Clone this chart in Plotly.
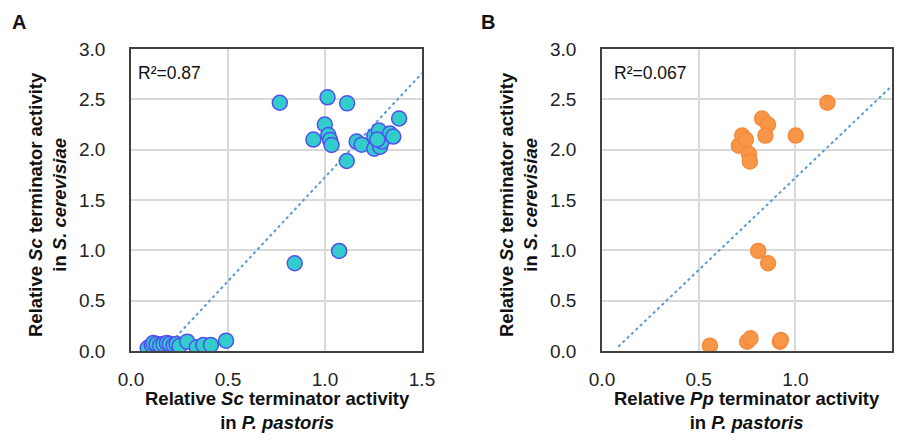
import plotly.graph_objects as go

# Panel A data: Sc terminators, activity in P. pastoris (x) vs S. cerevisiae (y)
a_x = [0.767, 1.013, 1.114, 1.382, 0.999, 0.940, 1.017, 1.026, 1.034, 1.112,
       1.163, 1.189, 1.254, 1.278, 1.254, 1.284, 1.292, 1.335, 1.352, 1.270,
       0.844, 1.073,
       0.086, 0.107, 0.115, 0.132, 0.150, 0.167, 0.185, 0.200, 0.220, 0.235,
       0.250, 0.290, 0.339, 0.373, 0.412, 0.490]
a_y = [2.466, 2.520, 2.460, 2.310, 2.250, 2.100, 2.145, 2.095, 2.046, 1.887,
       2.080, 2.050, 2.135, 2.190, 2.010, 2.030, 2.080, 2.160, 2.130, 2.100,
       0.872, 0.994,
       0.030, 0.060, 0.080, 0.070, 0.060, 0.070, 0.080, 0.070, 0.060, 0.070,
       0.050, 0.093, 0.037, 0.060, 0.060, 0.103]
a_trend_x = [0.209, 1.5]
a_trend_y = [0.093, 2.76]
a_r2 = "R²=0.87"

# Panel B data: Pp terminators
b_x = [0.558, 0.751, 0.768, 0.920, 0.925, 0.808, 0.859, 0.708, 0.725, 0.744,
       0.760, 0.765, 0.828, 0.859, 0.845, 1.002, 1.166]
b_y = [0.053, 0.093, 0.126, 0.093, 0.110, 0.994, 0.872, 2.040, 2.140, 2.100,
       1.956, 1.883, 2.310, 2.250, 2.140, 2.140, 2.466]
b_trend_x = [0.084, 1.5]
b_trend_y = [0.043, 2.635]
b_r2 = "R²=0.067"

x_ticks = [0.0, 0.5, 1.0, 1.5]
y_ticks = [0.0, 0.5, 1.0, 1.5, 2.0, 2.5, 3.0]
x_tick_text = ["0.0", "0.5", "1.0", "1.5"]
y_tick_text = ["0.0", "0.5", "1.0", "1.5", "2.0", "2.5", "3.0"]

# page body has an 8px margin: figure is drawn offset by 8px
OFF = 8
W, H = 904 - OFF, 440 - OFF
FONT = "Liberation Sans, Arial, sans-serif"


def px(x):
    return (x - OFF) / W


def py(y):
    return 1 - (y - OFF) / H


fig = go.Figure()

fig.add_trace(go.Scatter(x=a_trend_x, y=a_trend_y, mode="lines",
                         line=dict(color="#5B9BD5", width=2, dash="dot"),
                         xaxis="x", yaxis="y", showlegend=False))
fig.add_trace(go.Scatter(x=a_x, y=a_y, mode="markers",
                         marker=dict(size=15, color="#33CCCC",
                                     line=dict(color="#5050F0", width=1.5)),
                         xaxis="x", yaxis="y", showlegend=False))
fig.add_trace(go.Scatter(x=b_trend_x, y=b_trend_y, mode="lines",
                         line=dict(color="#5B9BD5", width=2, dash="dot"),
                         xaxis="x2", yaxis="y2", showlegend=False))
fig.add_trace(go.Scatter(x=b_x, y=b_y, mode="markers",
                         marker=dict(size=15, color="#F79646",
                                     line=dict(color="#F58A3C", width=1.5)),
                         xaxis="x2", yaxis="y2", showlegend=False))

ydom = [py(351), py(49)]
tickfont = dict(family=FONT, size=19, color="#222")
common_x = dict(range=[0, 1.5], tickvals=x_ticks, ticktext=x_tick_text,
                showgrid=True, gridcolor="#D9D9D9", gridwidth=1.5,
                zeroline=False, showline=True, linecolor="#404040", linewidth=1.5,
                mirror=True, ticks="outside", ticklen=10, tickcolor="rgba(0,0,0,0)",
                tickfont=tickfont, fixedrange=True)
common_y = dict(range=[0, 3.0], tickvals=y_ticks, ticktext=y_tick_text,
                showgrid=True, gridcolor="#D9D9D9", gridwidth=1.5,
                zeroline=False, showline=True, linecolor="#404040", linewidth=1.5,
                mirror=True, ticks="outside", ticklen=20, tickcolor="rgba(0,0,0,0)",
                tickfont=tickfont, fixedrange=True)

fig.update_layout(
    width=W, height=H,
    margin=dict(l=0, r=0, t=0, b=0, autoexpand=False),
    paper_bgcolor="white", plot_bgcolor="white",
    font=dict(family=FONT, color="#111"),
    xaxis=dict(domain=[px(131), px(422)], anchor="y", **common_x),
    yaxis=dict(domain=ydom, anchor="x", **common_y),
    xaxis2=dict(domain=[px(602), px(892)], anchor="y2", **common_x),
    yaxis2=dict(domain=ydom, anchor="x2", **common_y),
)

ann = []
title_font = dict(family=FONT, size=18.5, color="#111")
# panel letters
ann.append(dict(text="<b>A</b>", x=px(10), y=py(8.5), xref="paper", yref="paper",
                showarrow=False, xanchor="left", yanchor="top",
                font=dict(family=FONT, size=20, color="#111")))
ann.append(dict(text="<b>B</b>", x=px(479), y=py(8.5), xref="paper", yref="paper",
                showarrow=False, xanchor="left", yanchor="top",
                font=dict(family=FONT, size=20, color="#111")))
# y titles
for cx in (47, 518):
    ann.append(dict(text="<b>Relative <i>Sc</i> terminator activity<br>in <i>S. cerevisiae</i></b>",
                    x=px(cx), y=py(205), xref="paper", yref="paper",
                    showarrow=False, textangle=-90, xanchor="center", yanchor="middle",
                    font=title_font))
# x titles
ann.append(dict(text="<b>Relative <i>Sc</i> terminator activity<br>in <i>P. pastoris</i></b>",
                x=px(277), y=py(410), xref="paper", yref="paper",
                showarrow=False, xanchor="center", yanchor="middle", font=title_font))
ann.append(dict(text="<b>Relative <i>Pp</i> terminator activity<br>in <i>P. pastoris</i></b>",
                x=px(747), y=py(410), xref="paper", yref="paper",
                showarrow=False, xanchor="center", yanchor="middle", font=title_font))
# R2 labels
ann.append(dict(text=a_r2, x=px(136), y=py(73), xref="paper", yref="paper",
                showarrow=False, xanchor="left", yanchor="middle",
                font=dict(family=FONT, size=17.5, color="#111")))
ann.append(dict(text=b_r2, x=px(612), y=py(73), xref="paper", yref="paper",
                showarrow=False, xanchor="left", yanchor="middle",
                font=dict(family=FONT, size=17.5, color="#111")))
fig.update_layout(annotations=ann)

fig.write_html("out.html")
